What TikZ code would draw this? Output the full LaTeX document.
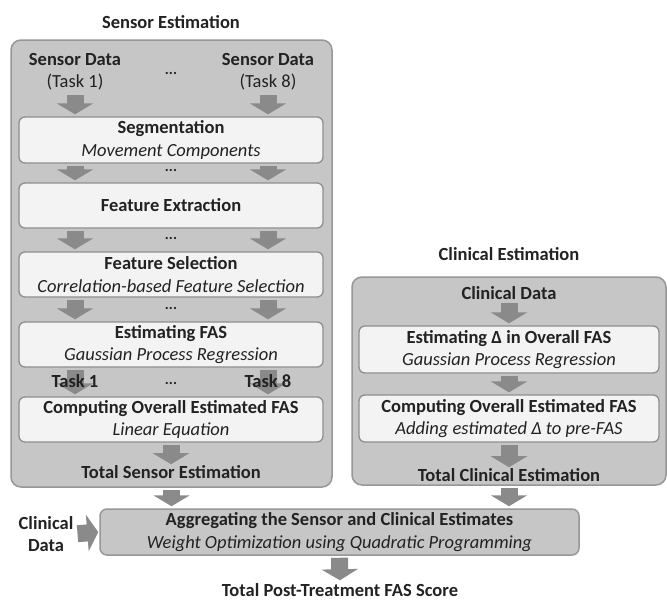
\documentclass[tikz,border=0pt]{standalone}
\usepackage{fontspec}
\setmainfont{Carlito}
\usetikzlibrary{arrows.meta}
\definecolor{outerfill}{HTML}{C6C6C6}
\definecolor{outerdraw}{HTML}{979797}
\definecolor{innerfill}{HTML}{F3F3F3}
\definecolor{innerdraw}{HTML}{8E8E8E}
\definecolor{arrowgray}{HTML}{8A8A8A}
\definecolor{txt}{HTML}{222222}
\pgfdeclarelayer{bg}
\pgfdeclarelayer{mid}
\pgfsetlayers{bg,mid,main}
\newcommand{\mysize}{\fontsize{18.5}{22.5}\selectfont}
\begin{document}
\begin{tikzpicture}[x=1pt,y=-1pt,
  every node/.style={font=\mysize, text=txt, inner sep=0pt},
  outerbox/.style={draw=outerdraw, fill=outerfill, line width=1.5pt, rounded corners=10pt},
  innerbox/.style={draw=innerdraw, fill=innerfill, line width=1.3pt, rounded corners=6pt, align=center},
  lbl/.style={align=center},
  dotlbl/.style={font=\fontsize{15}{16}\selectfont\bfseries, anchor=base, text height=2pt, text depth=0pt},
  fat/.style={draw=arrowgray, line width=17pt, -{Triangle[width=36pt,length=11pt]}, shorten <=2pt, shorten >=2pt}
]
\useasboundingbox (0,0) rectangle (667,600);

% titles
\node[lbl] (stitle) at (171,22) {\textbf{Sensor Estimation}};
\node[lbl] (ctitle) at (509,254) {\textbf{Clinical Estimation}};

% outer boxes
\begin{pgfonlayer}{bg}
\node[outerbox, minimum width=321pt, minimum height=447pt] (sbox) at (171.5,263.5) {};
\node[outerbox, minimum width=314pt, minimum height=208pt] (cbox) at (509,381) {};
\end{pgfonlayer}

% sensor column
\node[lbl] (sd1) at (75,71.5) {\textbf{Sensor Data}\\(Task 1)};
\node[lbl] (sd8) at (268,71.5) {\textbf{Sensor Data}\\(Task 8)};
\node[dotlbl] (d0) at (171,74) {...};

\node[innerbox, minimum width=304pt, minimum height=46pt] (seg) at (171,140) {\textbf{Segmentation}\\\textit{Movement Components}};
\node[dotlbl] (d1) at (171,171) {...};
\node[innerbox, minimum width=304pt, minimum height=45pt] (fe) at (171,205.5) {\textbf{Feature Extraction}};
\node[dotlbl] (d2) at (171,239) {...};
\node[innerbox, minimum width=304pt, minimum height=45pt] (fs) at (171,274.5) {\textbf{Feature Selection}\\\textit{Correlation-based Feature Selection}};
\node[dotlbl] (d3) at (171,309) {...};
\node[innerbox, minimum width=304pt, minimum height=45pt] (ef) at (171,344.5) {\textbf{Estimating FAS}\\\textit{Gaussian Process Regression}};
\node[lbl] (t1) at (75,381) {\textbf{Task 1}};
\node[lbl] (t8) at (268,381) {\textbf{Task 8}};
\node[dotlbl] (d4) at (171,384) {...};
\node[innerbox, minimum width=304pt, minimum height=45pt] (co) at (171,419.5) {\textbf{Computing Overall Estimated FAS}\\\textit{Linear Equation}};
\node[lbl] (tse) at (171,472) {\textbf{Total Sensor Estimation}};

% clinical column
\node[lbl] (cd) at (509,293) {\textbf{Clinical Data}};
\node[innerbox, minimum width=300pt, minimum height=47pt] (ed) at (509,349.5) {\textbf{Estimating Δ in Overall FAS}\\\textit{Gaussian Process Regression}};
\node[innerbox, minimum width=300pt, minimum height=47pt] (co2) at (509,418.5) {\textbf{Computing Overall Estimated FAS}\\\textit{Adding estimated Δ to pre-FAS}};
\node[lbl] (tce) at (509,475) {\textbf{Total Clinical Estimation}};

% aggregation
\node[outerbox, rounded corners=7pt, minimum width=479pt, minimum height=46pt, align=center] (agg) at (339.5,532) {\textbf{Aggregating the Sensor and Clinical Estimates}\\\textit{Weight Optimization using Quadratic Programming}};
\node[lbl] (cdl) at (46,534) {\textbf{Clinical}\\\textbf{Data}};
\node[lbl] (tpt) at (340,590) {\textbf{Total Post-Treatment FAS Score}};

% arrows
\begin{pgfonlayer}{mid}
\draw[fat, shorten <=5pt] (sd1.south) -- (seg.north -| sd1);
\draw[fat, shorten <=5pt] (sd8.south) -- (seg.north -| sd8);
\foreach \a/\b in {seg/fe, fe/fs, fs/ef, ef/co} {
  \draw[fat] (\a.south -| sd1) -- (\b.north -| sd1);
  \draw[fat] (\a.south -| sd8) -- (\b.north -| sd8);
}
\draw[fat, shorten >=1pt] (co.south) -- (tse.north);
\draw[fat] (sbox.south) -- (agg.north -| sbox);
\draw[fat, shorten <=3pt] (cd.south) -- (ed.north);
\draw[fat] (ed.south) -- (co2.north);
\draw[fat, shorten >=1pt] (co2.south) -- (tce.north);
\draw[fat] (cbox.south) -- (agg.north -| cbox);
\draw[fat, shorten >=3pt] (agg.south) -- (tpt.north);
\draw[fat, shorten <=4pt, shorten >=1pt] (cdl.east) -- (agg.west);
\end{pgfonlayer}
\end{tikzpicture}
\end{document}
